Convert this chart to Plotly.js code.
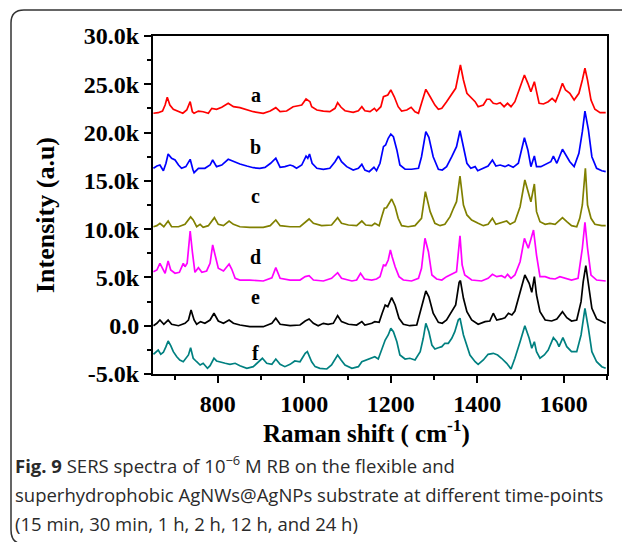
<!DOCTYPE html>
<html>
<head>
<meta charset="utf-8">
<script src="https://cdn.plot.ly/plotly-3.0.1.min.js"></script>
<style>
html,body{margin:0;padding:0;background:#fff;}
#chart{width:622px;height:542px;}
</style>
</head>
<body>
<div id="chart"></div>
<script>
// ---- data (Raman shift cm-1, intensity counts) ----
const seriesNames = ['a', 'b', 'c', 'd', 'e', 'f'];
const seriesColors = ['#ff0000', '#0000ff', '#808000', '#ff00ff', '#000000', '#008080'];

const specA = [[651,22000],[662,22060],[672,22230],[678,22850],[683,23650],[689,22850],[697,22410],[709,22230],[719,22000],[728,22340],[736,23200],[741,22160],[745,22000],[755,22230],[766,22160],[778,22000],[786,22510],[797,22410],[809,22620],[824,23030],[836,22680],[851,22580],[867,22340],[882,22160],[905,22000],[921,22230],[934,22580],[944,22160],[959,22230],[974,22680],[986,22780],[994,22850],[1004,23480],[1013,23200],[1017,22680],[1029,22340],[1044,22230],[1059,22160],[1071,22510],[1077,23090],[1085,22620],[1094,22260],[1113,22100],[1125,22260],[1133,22680],[1140,22260],[1152,22160],[1162,22510],[1167,22230],[1177,22680],[1183,23710],[1188,23790],[1193,23890],[1200,24410],[1208,23710],[1217,22680],[1225,22230],[1237,22340],[1247,22620],[1256,22160],[1264,22000],[1271,23030],[1281,24480],[1291,23710],[1302,22850],[1310,22410],[1318,22510],[1329,23200],[1341,24070],[1350,24580],[1361,27000],[1368,25440],[1376,24070],[1383,23710],[1395,23200],[1402,22680],[1414,22850],[1422,23450],[1429,23450],[1437,23030],[1445,22960],[1453,23090],[1462,22680],[1470,23030],[1478,22680],[1487,23200],[1499,24750],[1509,25960],[1517,25100],[1524,24230],[1532,25270],[1537,24230],[1543,23030],[1553,22960],[1564,23200],[1573,23550],[1581,23200],[1589,24070],[1597,25100],[1604,24410],[1614,24070],[1624,23370],[1635,24070],[1643,25440],[1649,26660],[1655,25440],[1663,23370],[1672,22410],[1684,22060],[1697,22060]];

const specB = [[651,16300],[659,16540],[666,16640],[674,16050],[680,16820],[685,17780],[693,17340],[701,17160],[709,16640],[716,16300],[726,16470],[736,17230],[742,16200],[745,15850],[755,16300],[770,16300],[782,16640],[788,17160],[797,16470],[809,16640],[824,17230],[836,16980],[851,16750],[867,16540],[882,16360],[897,16300],[909,16400],[922,16820],[934,17340],[944,16400],[955,16470],[967,16640],[974,16540],[982,16300],[994,16640],[1004,17570],[1008,17340],[1012,17780],[1018,16820],[1029,16300],[1044,16200],[1059,16300],[1071,16980],[1079,17570],[1086,16980],[1098,16470],[1113,16120],[1125,16300],[1133,16710],[1140,16120],[1150,15950],[1161,16400],[1167,16050],[1175,16820],[1183,18540],[1188,18710],[1194,19410],[1200,19850],[1206,19570],[1214,18200],[1221,16640],[1233,16200],[1248,16200],[1264,16300],[1271,17500],[1281,20090],[1288,19510],[1298,17500],[1310,16200],[1319,16120],[1329,16470],[1341,17500],[1352,18540],[1360,20190],[1368,18540],[1376,16820],[1385,16300],[1395,16470],[1401,16050],[1414,16300],[1425,16540],[1435,17160],[1443,16540],[1453,16640],[1464,16470],[1472,16640],[1483,16400],[1495,16820],[1503,18200],[1509,19470],[1517,18200],[1524,16470],[1532,17570],[1537,16470],[1547,16470],[1561,16820],[1570,16980],[1576,17570],[1584,16820],[1597,18270],[1607,17500],[1614,16980],[1624,16470],[1635,17850],[1643,20090],[1649,22230],[1657,20270],[1665,17500],[1676,16300],[1688,16050],[1697,15950]];

const specC = [[651,10250],[659,10360],[666,10600],[675,10250],[685,10840],[693,10250],[709,10250],[724,10500],[737,11260],[743,10950],[751,10250],[759,10500],[766,10190],[778,10360],[792,11190],[801,10500],[813,10360],[826,10840],[836,10500],[851,10250],[874,10190],[905,10190],[921,10360],[934,10950],[944,10360],[967,10250],[990,10250],[997,10500],[1011,11050],[1021,10600],[1040,10360],[1063,10430],[1077,11190],[1086,10600],[1102,10430],[1121,10360],[1133,10840],[1142,10430],[1156,10360],[1163,10600],[1173,10360],[1179,11290],[1185,12160],[1190,12220],[1194,12500],[1202,13120],[1210,12320],[1217,11120],[1225,10360],[1240,10250],[1256,10360],[1271,11120],[1280,13880],[1291,11810],[1302,10600],[1314,10360],[1325,10500],[1337,11290],[1345,12160],[1352,12840],[1360,15500],[1368,12500],[1376,11470],[1387,10950],[1402,10600],[1414,10360],[1425,10500],[1435,11120],[1443,10500],[1456,10710],[1468,10840],[1476,10500],[1487,10770],[1499,12320],[1510,15090],[1524,12840],[1532,14680],[1537,11810],[1545,10770],[1557,10500],[1568,10600],[1580,10500],[1587,10770],[1597,11190],[1607,10770],[1618,10360],[1630,10250],[1637,11120],[1643,12500],[1650,16300],[1655,12500],[1663,11120],[1672,10500],[1688,10360],[1697,10360]];

const specD = [[651,5590],[659,5770],[666,6460],[674,5770],[678,5430],[685,6700],[691,5770],[701,5430],[711,5530],[720,6460],[724,6110],[729,6460],[736,9810],[741,7660],[747,5530],[755,6010],[763,5530],[774,5670],[782,6460],[788,8360],[793,7400],[801,5950],[813,5670],[826,6390],[832,5870],[840,4910],[851,4730],[874,4730],[905,4630],[925,4970],[934,6010],[944,4910],[967,4730],[990,4730],[1002,5080],[1011,5180],[1021,4730],[1044,4630],[1063,4910],[1077,5490],[1086,4910],[1110,4630],[1121,4730],[1130,5430],[1139,4840],[1156,4730],[1167,4840],[1175,5080],[1183,6290],[1188,6220],[1194,6800],[1199,7840],[1203,7150],[1210,6110],[1219,5080],[1229,4730],[1248,4630],[1264,4910],[1271,5950],[1279,9050],[1287,7660],[1295,5250],[1306,4840],[1318,4730],[1329,5080],[1341,5320],[1352,5590],[1360,9320],[1365,6290],[1371,5250],[1387,4730],[1410,4630],[1425,4910],[1435,5320],[1445,5080],[1456,5180],[1464,4970],[1470,5320],[1478,4910],[1487,5250],[1499,6630],[1509,9050],[1518,8020],[1530,9910],[1537,7320],[1545,5080],[1557,5080],[1568,4910],[1580,4840],[1591,5080],[1603,4910],[1618,4730],[1633,4910],[1643,8020],[1649,10710],[1655,8020],[1663,5250],[1676,4730],[1697,4630]];

const specE = [[651,0],[659,250],[666,590],[675,150],[685,590],[693,150],[709,0],[724,250],[732,590],[738,1630],[745,590],[751,150],[760,420],[770,250],[782,590],[791,1290],[801,490],[813,250],[826,590],[836,250],[851,70],[874,-100],[905,-100],[925,250],[934,770],[944,150],[967,0],[990,70],[1002,490],[1011,700],[1021,250],[1032,0],[1044,250],[1055,150],[1067,250],[1077,1040],[1086,420],[1102,150],[1121,70],[1133,420],[1140,70],[1156,250],[1163,420],[1173,350],[1180,1290],[1187,2150],[1193,1970],[1202,2900],[1210,2150],[1219,770],[1229,150],[1244,0],[1260,70],[1271,1800],[1281,3600],[1288,3000],[1298,1290],[1310,350],[1319,250],[1329,590],[1341,1450],[1350,2150],[1358,4500],[1361,4680],[1368,2840],[1376,1450],[1387,590],[1402,150],[1418,420],[1429,490],[1437,1290],[1445,590],[1456,700],[1464,830],[1472,1290],[1480,1110],[1487,1520],[1499,3520],[1510,5250],[1520,4390],[1526,3460],[1532,5080],[1537,3180],[1545,1450],[1557,590],[1572,490],[1584,700],[1597,1450],[1607,830],[1618,490],[1630,590],[1640,2490],[1645,4560],[1651,6220],[1656,4560],[1665,1800],[1676,700],[1688,420],[1697,250]];

const specF = [[651,-2960],[657,-2690],[662,-2520],[668,-2960],[674,-2750],[680,-2170],[685,-1580],[691,-2070],[697,-2690],[705,-3210],[712,-3550],[720,-3730],[726,-3370],[732,-3030],[737,-2280],[743,-3370],[751,-3730],[759,-4070],[766,-3890],[776,-4410],[782,-4140],[791,-3370],[797,-3650],[807,-3730],[817,-3890],[828,-4000],[840,-3890],[851,-4140],[867,-4410],[882,-4240],[891,-3890],[903,-3370],[913,-3890],[925,-4000],[934,-3450],[944,-4000],[955,-4240],[967,-4000],[978,-3650],[990,-3730],[1002,-2860],[1007,-2690],[1017,-3730],[1025,-4240],[1036,-4410],[1052,-4480],[1063,-4070],[1071,-3550],[1077,-3030],[1085,-3550],[1094,-4070],[1110,-4410],[1125,-4240],[1133,-3730],[1144,-3550],[1156,-3370],[1163,-3210],[1171,-3450],[1180,-2340],[1187,-1480],[1194,-960],[1200,-270],[1206,-620],[1214,-1660],[1221,-3030],[1233,-3450],[1244,-3370],[1256,-3550],[1268,-2690],[1275,-1300],[1281,250],[1288,-620],[1295,-2000],[1302,-2410],[1310,-2280],[1318,-2170],[1325,-1820],[1333,-1820],[1341,-1300],[1348,-620],[1356,590],[1360,770],[1368,-960],[1376,-2000],[1383,-3030],[1395,-3730],[1402,-4000],[1414,-3550],[1425,-2960],[1437,-2860],[1447,-3030],[1456,-3370],[1468,-3890],[1478,-4480],[1487,-3370],[1499,-1660],[1510,0],[1520,-1300],[1526,-2340],[1532,-1660],[1537,-2690],[1545,-3370],[1555,-3030],[1564,-2520],[1576,-1240],[1584,-1660],[1589,-2170],[1598,-1240],[1607,-2170],[1618,-2690],[1630,-2690],[1640,-960],[1649,1800],[1657,-270],[1665,-2690],[1676,-3730],[1688,-4240],[1697,-4410]];

// label positions (Raman shift, intensity) of the letters a-f
const labelX = [888, 888, 888, 888, 888, 888];
const labelY = [23890, 18540, 13430, 7150, 2940, -2790];

const xTickVals = [800, 1000, 1200, 1400, 1600];
const xTickText = ['800', '1000', '1200', '1400', '1600'];
const xMinorVals = [700, 900, 1100, 1300, 1500, 1700];
const yTickVals = [-5000, 0, 5000, 10000, 15000, 20000, 25000, 30000];
const yTickText = ['-5.0k', '0.0', '5.0k', '10.0k', '15.0k', '20.0k', '25.0k', '30.0k'];
const yMinorVals = [-2500, 2500, 7500, 12500, 17500, 22500, 27500];

const xTitle = 'Raman shift ( cm<sup>-1</sup>)';
const yTitle = 'Intensity (a.u)';
const captionLines = [
  '<b>Fig. 9</b> SERS spectra of 10<sup>\u22126</sup> M RB on the flexible and',
  'superhydrophobic AgNWs@AgNPs substrate at different time-points',
  '(15 min, 30 min, 1 h, 2 h, 12 h, and 24 h)'
];

// ---- chart ----
const spectra = [specA, specB, specC, specD, specE, specF];
const W = 622, H = 542;
const M = {l: 153, r: 15, t: 36, b: 168};
const plotW = W - M.l - M.r, plotH = H - M.t - M.b;
const pxX = p => (p - M.l) / plotW;
const pxY = p => (H - M.b - p) / plotH;

const serif = 'Liberation Serif, Times New Roman, serif';

const traces = spectra.map((s, i) => ({
  type: 'scatter',
  mode: 'lines',
  name: seriesNames[i],
  x: s.map(p => p[0]),
  y: s.map(p => p[1]),
  line: {color: seriesColors[i], width: 1.7},
  hoverinfo: 'x+y'
}));

const annotations = seriesNames.map((n, i) => ({
  x: labelX[i], y: labelY[i], xref: 'x', yref: 'y',
  text: n, showarrow: false,
  xanchor: 'center', yanchor: 'middle',
  font: {family: serif, size: 20, color: '#000', weight: 'bold'}
}));

// axis titles (placed where the reference has them)
annotations.push({
  x: pxX(366), y: pxY(431), xref: 'paper', yref: 'paper',
  text: xTitle, showarrow: false, xanchor: 'center', yanchor: 'middle',
  font: {family: serif, size: 25, color: '#000', weight: 'bold'}
});
annotations.push({
  x: pxX(46), y: pxY(215), xref: 'paper', yref: 'paper',
  text: yTitle, showarrow: false, textangle: -90, xanchor: 'center', yanchor: 'middle',
  font: {family: serif, size: 26, color: '#000', weight: 'bold'}
});

const captionY = [464, 494, 523];
captionLines.forEach((t, i) => {
  annotations.push({
    x: pxX(13), y: pxY(captionY[i]), xref: 'paper', yref: 'paper',
    text: t, showarrow: false, xanchor: 'left', yanchor: 'middle', align: 'left',
    font: {family: 'Open Sans, Noto Sans, sans-serif', size: 18.5, color: '#2a2a2a'}
  });
});

const framePath = 'M ' + pxX(640) + ',' + pxY(10) +
  ' L ' + pxX(24) + ',' + pxY(10) +
  ' Q ' + pxX(11) + ',' + pxY(10) + ' ' + pxX(11) + ',' + pxY(23) +
  ' L ' + pxX(11) + ',' + pxY(530) +
  ' Q ' + pxX(11) + ',' + pxY(544) + ' ' + pxX(24) + ',' + pxY(544);

const axisFont = {family: serif, size: 24, color: '#000', weight: 'bold'};

const layout = {
  width: W, height: H,
  margin: M,
  paper_bgcolor: '#fff', plot_bgcolor: '#fff',
  showlegend: false,
  xaxis: {
    range: [650, 1700],
    showgrid: false, zeroline: false,
    showline: true, linecolor: '#000', linewidth: 2, mirror: true,
    ticks: 'outside', ticklen: 7, tickwidth: 2, tickcolor: '#000',
    tickmode: 'array', tickvals: xTickVals, ticktext: xTickText,
    tickfont: axisFont,
    minor: {tickmode: 'array', tickvals: xMinorVals, ticks: 'outside', ticklen: 4, tickwidth: 2, tickcolor: '#000', showgrid: false}
  },
  yaxis: {
    range: [-5000, 30000],
    showgrid: false, zeroline: false,
    showline: true, linecolor: '#000', linewidth: 2, mirror: true,
    ticks: 'outside', ticklen: 7, tickwidth: 2, tickcolor: '#000',
    tickmode: 'array', tickvals: yTickVals, ticktext: yTickText,
    tickfont: axisFont,
    minor: {tickmode: 'array', tickvals: yMinorVals, ticks: 'outside', ticklen: 4, tickwidth: 2, tickcolor: '#000', showgrid: false}
  },
  shapes: [{
    type: 'path', xref: 'paper', yref: 'paper', path: framePath,
    line: {color: '#333', width: 1.5}
  }],
  annotations: annotations
};

Plotly.newPlot('chart', traces, layout, {staticPlot: true, displayModeBar: false});
</script>
</body>
</html>
